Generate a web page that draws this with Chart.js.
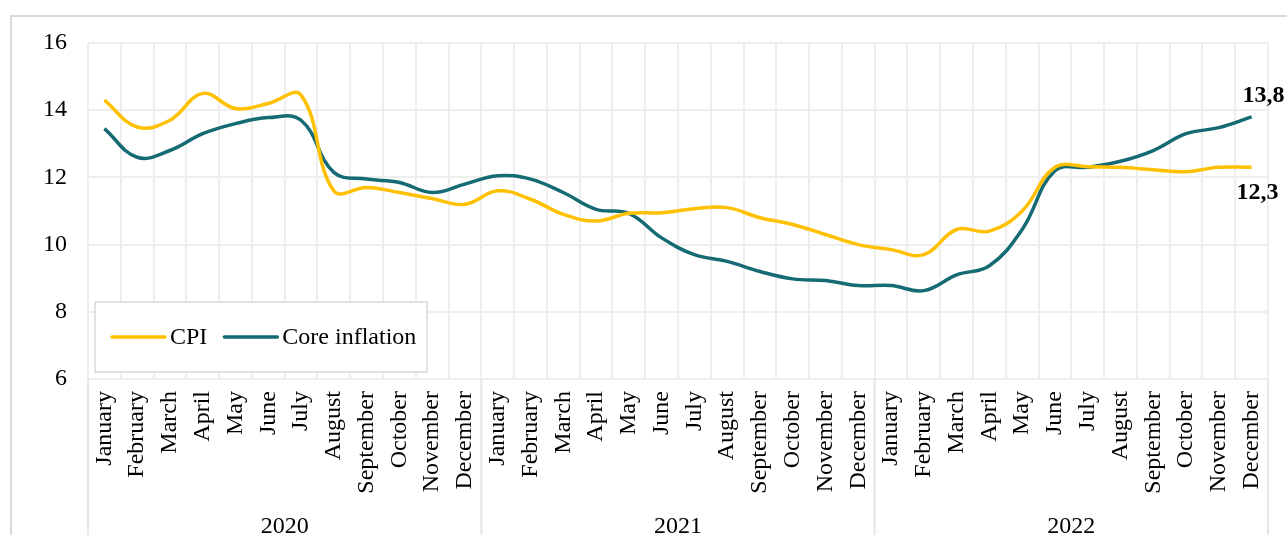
<!DOCTYPE html>
<html>
<head>
<meta charset="utf-8">
<script src="https://cdn.jsdelivr.net/npm/chart.js@4"></script>
<style>
    html, body { margin: 0; padding: 0; background: #ffffff; overflow: hidden; }
    .frame {
        position: absolute;
        left: 10px;
        top: 15px;
        width: 1300px;
        height: 540px;
        border: 2px solid #d9d9d9;
        background: #ffffff;
    }
    .frame canvas { display: block; }
</style>
</head>
<body>
<div class="frame"><canvas id="inflationChart"></canvas></div>
<script>
// Monthly categories, grouped by year
const years = ['2020', '2021', '2022'];
const months = ['January', 'February', 'March', 'April', 'May', 'June', 'July',
    'August', 'September', 'October', 'November', 'December'];

// Year-on-year inflation, %
const cpiValues = [
    14.3, 13.5, 13.7, 14.5, 14.05, 14.2, 14.45, 11.6, 11.7, 11.55, 11.37, 11.2,
    11.6, 11.35, 10.9, 10.7, 10.93, 10.95, 11.07, 11.1, 10.8, 10.6, 10.3, 10.0,
    9.85, 9.7, 10.45, 10.4, 11.0, 12.3, 12.32, 12.3, 12.23, 12.17, 12.3, 12.3
];
const coreValues = [
    13.45, 12.6, 12.8, 13.3, 13.6, 13.78, 13.7, 12.15, 11.95, 11.85, 11.55, 11.8,
    12.05, 11.95, 11.55, 11.05, 10.93, 10.2, 9.7, 9.5, 9.2, 8.98, 8.93, 8.78,
    8.78, 8.63, 9.1, 9.37, 10.45, 12.2, 12.3, 12.48, 12.8, 13.3, 13.48, 13.8
];

const yTicks = [6, 8, 10, 12, 14, 16];

const monthLabels = [];
years.forEach(() => months.forEach(m => monthLabels.push(m)));

const SERIF = "'Liberation Serif', 'Times New Roman', serif";
const GRID = '#eeeeee';

// Year separators below the month axis
const yearSeparators = {
    id: 'yearSeparators',
    afterDraw(chart) {
        const { ctx, chartArea } = chart;
        const x = chart.scales.x;
        const n = monthLabels.length;
        ctx.save();
        ctx.strokeStyle = '#e6e6e6';
        ctx.lineWidth = 2;
        for (let b = 0; b <= n; b += months.length) {
            let px;
            if (b === 0) px = chartArea.left;
            else if (b === n) px = chartArea.right;
            else px = (x.getPixelForValue(b - 1) + x.getPixelForValue(b)) / 2;
            ctx.beginPath();
            ctx.moveTo(px, chartArea.bottom);
            ctx.lineTo(px, chart.height);
            ctx.stroke();
        }
        ctx.restore();
    }
};

// Legend box in the lower-left corner of the plot
const insideLegend = {
    id: 'insideLegend',
    afterDatasetsDraw(chart) {
        const { ctx, chartArea } = chart;
        const boxX = chartArea.left + 7;
        const boxW = 332, boxH = 70;
        const boxY = chartArea.bottom - boxH - 7;
        ctx.save();
        ctx.fillStyle = '#ffffff';
        ctx.fillRect(boxX, boxY, boxW, boxH);
        ctx.strokeStyle = '#d9d9d9';
        ctx.lineWidth = 1.5;
        ctx.strokeRect(boxX, boxY, boxW, boxH);
        ctx.font = '24px ' + SERIF;
        ctx.textBaseline = 'middle';
        ctx.fillStyle = '#000000';
        let cx = boxX + 17;
        const cy = boxY + boxH / 2;
        chart.data.datasets.forEach(ds => {
            ctx.strokeStyle = ds.borderColor;
            ctx.lineWidth = 3.5;
            ctx.lineCap = 'round';
            ctx.beginPath();
            ctx.moveTo(cx, cy);
            ctx.lineTo(cx + 53, cy);
            ctx.stroke();
            cx += 58;
            ctx.fillText(ds.label, cx, cy + 1);
            cx += ctx.measureText(ds.label).width + 17;
        });
        ctx.restore();
    }
};

// Bold value labels at the last month of each series
const endLabels = {
    id: 'endLabels',
    afterDatasetsDraw(chart) {
        const { ctx } = chart;
        ctx.save();
        ctx.font = 'bold 24px ' + SERIF;
        ctx.fillStyle = '#000000';
        ctx.textAlign = 'center';
        ctx.textBaseline = 'middle';
        chart.data.datasets.forEach((ds, i) => {
            const meta = chart.getDatasetMeta(i);
            const last = meta.data[meta.data.length - 1];
            const value = ds.data[ds.data.length - 1];
            const text = value.toFixed(1).replace('.', ',');
            const off = ds.labelOffset;
            ctx.fillText(text, last.x + off[0], last.y + off[1]);
        });
        ctx.restore();
    }
};

new Chart(document.getElementById('inflationChart'), {
    type: 'line',
    data: {
        labels: monthLabels,
        datasets: [{
            label: 'CPI',
            data: cpiValues,
            borderColor: '#ffc000',
            borderWidth: 3.5,
            pointRadius: 0,
            tension: 0.4,
            fill: false,
            labelOffset: [6, 25]
        }, {
            label: 'Core inflation',
            data: coreValues,
            borderColor: '#156b73',
            borderWidth: 3.5,
            pointRadius: 0,
            tension: 0.4,
            fill: false,
            labelOffset: [12, -21]
        }]
    },
    options: {
        responsive: true,
        maintainAspectRatio: false,
        animation: false,
        layout: { padding: { top: 26, right: 44, left: 0, bottom: 0 } },
        plugins: {
            legend: { display: false },
            tooltip: { enabled: false }
        },
        scales: {
            x: {
                type: 'category',
                offset: true,
                grid: { color: GRID, lineWidth: 2, offset: true, drawTicks: false },
                border: { display: true, color: GRID, width: 2 },
                ticks: {
                    autoSkip: false,
                    minRotation: 90,
                    maxRotation: 90,
                    padding: 12,
                    color: '#000000',
                    font: { family: SERIF, size: 24 }
                },
                afterFit: s => { s.height = 132; }
            },
            x2: {
                type: 'category',
                labels: years,
                position: 'bottom',
                offset: true,
                grid: { display: false, drawTicks: false },
                border: { display: false },
                ticks: {
                    padding: 1,
                    color: '#000000',
                    font: { family: SERIF, size: 24 }
                },
                afterFit: s => { s.height = 46; }
            },
            y: {
                min: yTicks[0],
                max: yTicks[yTicks.length - 1],
                afterBuildTicks: s => { s.ticks = yTicks.map(v => ({ value: v })); },
                grid: { color: GRID, lineWidth: 2, drawTicks: false },
                border: { display: false },
                ticks: {
                    padding: 21,
                    color: '#000000',
                    font: { family: SERIF, size: 24 }
                },
                afterFit: s => {
                    s.width = 76;
                    s.paddingTop = 0;
                    s.paddingBottom = 0;
                }
            }
        }
    },
    plugins: [yearSeparators, insideLegend, endLabels]
});
</script>
</body>
</html>
